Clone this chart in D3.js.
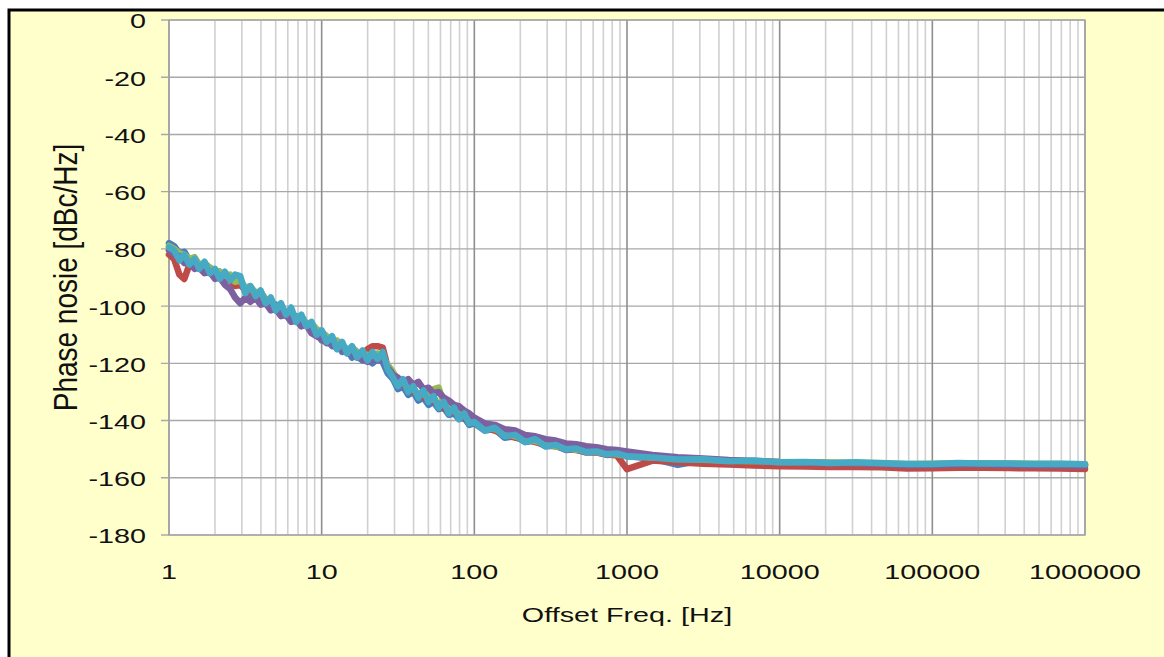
<!DOCTYPE html>
<html>
<head>
<meta charset="utf-8">
<script src="https://cdn.jsdelivr.net/npm/d3@7"></script>
<style>
  html, body { margin: 0; padding: 0; background: #fff; }
  svg { display: block; }
  text { font-family: "Liberation Sans", Arial, sans-serif; fill: #111; }
</style>
</head>
<body>
<svg id="chart" width="1164" height="657"></svg>
<script>
// offset frequencies [Hz] shared by all traces
const freqs = [
  1, 1.08, 1.17, 1.26, 1.36, 1.47, 1.58, 1.71, 1.85, 2.0,
  2.15, 2.32, 2.51, 2.71, 2.93, 3.16, 3.41, 3.69, 3.98, 4.3,
  4.64, 5.01, 5.41, 5.84, 6.31, 6.81, 7.36, 7.94, 8.58, 9.26,
  10, 10.8, 11.7, 12.6, 13.6, 14.7, 15.8, 17.1, 18.5, 20,
  21.5, 23.2, 25.1, 27.1, 29.3, 31.6, 34.1, 36.9, 39.8, 43,
  46.4, 50.1, 54.1, 58.4, 63.1, 68.1, 73.6, 79.4, 85.8, 92.6,
  100, 117, 136, 158, 185, 215, 251, 293, 341, 398,
  464, 541, 631, 736, 858, 1000, 1470, 2150, 3160, 4640,
  6810, 10000, 14700, 21500, 31600, 46400, 68100, 100000, 147000, 215000,
  316000, 464000, 681000, 1000000
];

// phase noise traces [dBc/Hz]
const blueTrace = [
  -78, -79, -81.5, -81, -84, -83, -86, -85.5, -86.5, -89,
  -88, -91, -90, -92.5, -92, -94.5, -96, -95, -98, -97.5,
  -100.5, -99.5, -103, -102, -104.5, -103.5, -107, -106, -109, -108.5,
  -112, -111.5, -114, -113, -116, -115, -118, -117, -119, -118.5,
  -120, -118.5, -119.5, -123.5, -125.5, -129, -128, -131, -130, -133,
  -132, -134.5, -133.5, -136, -135.5, -138, -137.5, -139.5, -139, -141.5,
  -141, -143.5, -143, -146, -145.5, -147.5, -147, -149, -148.8, -150.3,
  -150, -151.2, -151, -152, -151.8, -152.5, -153.3, -155.5, -153.9, -154.4,
  -154.3, -154.8, -154.7, -155, -154.9, -155.1, -155.7, -155.5, -155.2, -155.2,
  -155.3, -155.4, -155.4, -155.5
];
const redTrace = [
  -82, -83.5, -89, -90.5, -85.5, -86, -87, -87.5, -88.5, -89,
  -90, -90.5, -91, -93, -92.5, -94.5, -95, -96.5, -97, -98.5,
  -99.5, -101.5, -101, -103, -103.5, -104.5, -106, -106, -108, -109.5,
  -111, -112.5, -112.5, -114.5, -115, -116, -116, -118, -117.5, -115,
  -114, -114, -114.5, -121.5, -125, -127.5, -127, -129.5, -130, -130.5,
  -132, -131, -133.5, -134, -135.5, -137, -137, -138.5, -139, -140.5,
  -140, -142.5, -143.5, -145, -146, -146.5, -147.5, -148.5, -149, -149.8,
  -150.3, -151, -151.2, -151.8, -152.2, -157, -154, -154.6, -155.1, -155.4,
  -155.7, -156, -156.1, -156.2, -156.2, -156.3, -156.8, -156.7, -156.5, -156.5,
  -156.6, -156.7, -156.8, -156.9
];
const greenTrace = [
  -79, -80, -81.5, -82, -83.5, -83, -85.5, -85, -86.5, -87.5,
  -88, -89.5, -89, -91.5, -91, -93.5, -93, -95.5, -95, -97.5,
  -98, -101, -102, -103.5, -102.5, -104, -103.5, -106, -106, -108,
  -109, -110.5, -112.5, -112, -114.5, -115, -114.5, -116, -117.5, -117,
  -118, -116.5, -118, -120.5, -123, -126, -126.5, -128.5, -129, -131,
  -130, -131.5, -129, -128.5, -134, -135.5, -136.5, -137.5, -138, -139,
  -140.5, -142, -143, -144.5, -145.5, -146.5, -147.2, -148.2, -149, -149.5,
  -150.2, -150.5, -151, -151.5, -151.8, -152.3, -152.9, -153.3, -153.7, -154,
  -154.2, -154.5, -154.6, -154.7, -154.8, -154.8, -155.2, -155.1, -154.9, -154.9,
  -155, -155.1, -155.2, -155.3
];
const purpleTrace = [
  -80.5, -82, -82.5, -85, -84.5, -87, -86.5, -88.5, -88, -90.5,
  -90, -92.5, -94, -97, -99, -97, -98.5, -97, -99.5, -99,
  -101.5, -101, -103.5, -103, -105.5, -105, -107, -106.5, -109.5, -110.5,
  -111.5, -113, -112.5, -115, -114.5, -116.5, -116, -118, -118.5, -119.5,
  -118.5, -119, -118.5, -121.5, -124, -125, -126.5, -125.5, -127.5, -126.5,
  -129, -128.5, -130.5, -130, -132, -133, -134.5, -135, -136.5, -137.5,
  -139, -141, -141.5, -143, -143.5, -145, -145.5, -146.5, -147, -148,
  -148.3, -149, -149.3, -150, -150.3, -150.8, -152, -152.8, -153.3, -153.8,
  -154.1, -154.5, -154.7, -154.9, -154.9, -155.1, -155.6, -155.5, -155.3, -155.3,
  -155.5, -155.6, -155.7, -155.8
];
const cyanTrace = [
  -79.5, -80.5, -84, -82, -85.5, -83.5, -87, -84.5, -88.5, -87,
  -90.5, -88, -91, -89, -89.5, -95.5, -93, -96.5, -94.5, -99,
  -97, -101.5, -99, -103, -100.5, -105.5, -103, -107, -105.5, -110,
  -108.5, -112.5, -110.5, -115, -112.5, -116.5, -114, -118, -115.5, -119,
  -116, -118.5, -116, -122, -125, -128, -125.5, -130, -128, -132,
  -129.5, -133.5, -131.5, -135.5, -133.5, -137.5, -135.5, -139.5, -137.5, -141,
  -140.5, -143.5, -142.5, -145.5, -145, -147.5, -146.5, -149, -148.5, -150,
  -149.8, -151, -150.8, -151.8, -151.5, -152.5, -152.9, -153.6, -153.5, -154.2,
  -154, -154.6, -154.5, -154.8, -154.6, -154.9, -155.2, -155.2, -154.8, -155,
  -155, -155.2, -155.1, -155.3
];

const yTicks = [0, -20, -40, -60, -80, -100, -120, -140, -160, -180];
const xTickLabels = ["1", "10", "100", "1000", "10000", "100000", "1000000"];

const series = [
  { name: "blue", color: "#4A7EBB", values: blueTrace },
  { name: "red", color: "#BE4B48", values: redTrace },
  { name: "green", color: "#98B954", values: greenTrace },
  { name: "purple", color: "#7D60A0", values: purpleTrace },
  { name: "cyan", color: "#46AAC5", values: cyanTrace },
];

const svg = d3.select("#chart");
const W = 1164, H = 657;
const plot = { left: 169, top: 20, right: 1085, bottom: 535 };
const sx = 1.37; // the original picture is stretched horizontally

// yellow chart area with black frame
svg.append("rect")
  .attr("x", 9).attr("y", 10)
  .attr("width", W).attr("height", H)
  .attr("fill", "#FFFFCC")
  .attr("stroke", "#000").attr("stroke-width", 3);

svg.append("rect")
  .attr("x", plot.left).attr("y", plot.top)
  .attr("width", plot.right - plot.left).attr("height", plot.bottom - plot.top)
  .attr("fill", "#fff");

const x = d3.scaleLog().domain([1, 1e6]).range([plot.left, plot.right]);
const y = d3.scaleLinear().domain([-180, 0]).range([plot.bottom, plot.top]);

// vertical grid: minor then decades
const grid = svg.append("g").attr("class", "grid");
const minor = x.ticks().filter((d) => Math.abs(Math.log10(d) % 1) > 1e-9);
grid.selectAll("line.minor")
  .data(minor)
  .join("line")
  .attr("x1", (d) => x(d)).attr("x2", (d) => x(d))
  .attr("y1", plot.top).attr("y2", plot.bottom)
  .attr("stroke", "#D0D0D0").attr("stroke-width", 1.6);

grid.selectAll("line.hz")
  .data(yTicks)
  .join("line")
  .attr("x1", plot.left - 8).attr("x2", plot.right)
  .attr("y1", (d) => y(d)).attr("y2", (d) => y(d))
  .attr("stroke", "#A8A8A8").attr("stroke-width", 1.4);

const decades = xTickLabels.map(Number);
grid.selectAll("line.major")
  .data(decades)
  .join("line")
  .attr("x1", (d) => x(d)).attr("x2", (d) => x(d))
  .attr("y1", plot.top).attr("y2", plot.bottom)
  .attr("stroke", "#8E8E8E").attr("stroke-width", 1.6);

svg.append("rect")
  .attr("x", plot.left).attr("y", plot.top)
  .attr("width", plot.right - plot.left).attr("height", plot.bottom - plot.top)
  .attr("fill", "none").attr("stroke", "#A8A8A8").attr("stroke-width", 1.4);

// traces
const line = d3.line()
  .x((d, i) => x(freqs[i]))
  .y((d) => y(d));

svg.append("g")
  .attr("class", "traces")
  .selectAll("path")
  .data(series)
  .join("path")
  .attr("d", (s) => line(s.values))
  .attr("fill", "none")
  .attr("stroke", (s) => s.color)
  .attr("stroke-width", 6.5)
  .attr("stroke-linejoin", "round")
  .attr("stroke-linecap", "round");

// y tick labels
svg.append("g")
  .selectAll("text")
  .data(yTicks)
  .join("text")
  .attr("transform", (d) => `translate(146, ${y(d)}) scale(${sx}, 1)`)
  .attr("dy", "0.4em")
  .attr("text-anchor", "end")
  .attr("font-size", 21)
  .text((d) => d);

// x tick labels
svg.append("g")
  .selectAll("text")
  .data(xTickLabels)
  .join("text")
  .attr("transform", (d) => `translate(${x(+d)}, 579) scale(${sx}, 1)`)
  .attr("text-anchor", "middle")
  .attr("font-size", 21)
  .text((d) => d);

// axis titles
svg.append("text")
  .attr("transform", `translate(${(plot.left + plot.right) / 2}, 622) scale(${sx}, 1)`)
  .attr("text-anchor", "middle")
  .attr("font-size", 21)
  .text("Offset Freq. [Hz]");

svg.append("text")
  .attr("transform", `translate(77, ${(plot.top + plot.bottom) / 2}) scale(1.2, 1) rotate(-90)`)
  .attr("text-anchor", "middle")
  .attr("font-size", 28)
  .text("Phase nosie [dBc/Hz]");
</script>
</body>
</html>
